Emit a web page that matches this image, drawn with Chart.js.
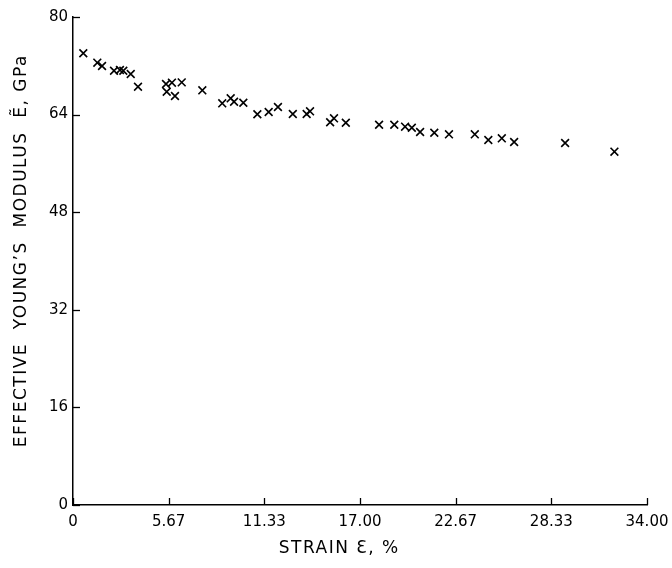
<!DOCTYPE html>
<html>
<head>
<meta charset="utf-8">
<script src="https://cdn.jsdelivr.net/npm/chart.js@4/dist/chart.umd.min.js"></script>
<style>
html,body{margin:0;padding:0;background:#fff;}
#wrap{width:672px;height:568px;position:relative;}
</style>
</head>
<body>
<div id="wrap"><canvas id="c" width="672" height="568"></canvas></div>
<script>
const strain = [0.61,1.44,1.72,2.43,2.78,2.98,3.42,3.85,5.51,5.55,5.86,6.04,6.44,7.66,8.84,9.34,9.54,10.09,10.92,11.59,12.14,13.02,13.84,14.04,15.23,15.46,16.16,18.13,19.03,19.67,20.07,20.56,21.40,22.27,23.80,24.60,25.40,26.13,29.15,32.07];
const modulus = [74.05,72.51,71.97,71.19,71.31,71.19,70.65,68.57,69.01,67.75,69.23,67.05,69.29,67.98,65.85,66.67,66.11,65.95,64.05,64.42,65.24,64.10,64.10,64.54,62.74,63.39,62.67,62.34,62.34,62.02,61.85,61.15,61.03,60.77,60.77,59.84,60.11,59.51,59.34,57.92];
const xTickValues = [0, 5.667, 11.333, 17, 22.667, 28.333, 34];
const xTickLabels = ['0','5.67','11.33','17.00','22.67','28.33','34.00'];
const yTickValues = [0,16,32,48,64,80];
const yTickLabels = ['0','16','32','48','64','80'];

const points = strain.map((x,i)=>({x:x,y:modulus[i]}));
const FONT = "'DejaVu Sans', sans-serif";

const inwardTicks = {
  id:'inwardTicks',
  beforeDraw(chart){ chart.ctx.letterSpacing = '1.5px'; },
  beforeDatasetsDraw(chart){ chart.ctx.letterSpacing = '0px'; },
  afterDraw(chart){
    const ctx = chart.ctx, xs = chart.scales.x, ys = chart.scales.y, a = chart.chartArea;
    ctx.save();
    ctx.strokeStyle = '#000';
    ctx.lineWidth = 1.3;
    xs.ticks.forEach(t=>{
      const px = Math.round(xs.getPixelForValue(t.value))+0.5;
      ctx.beginPath(); ctx.moveTo(px,a.bottom); ctx.lineTo(px,a.bottom-7); ctx.stroke();
    });
    ys.ticks.forEach(t=>{
      const py = Math.round(ys.getPixelForValue(t.value))+0.5;
      ctx.beginPath(); ctx.moveTo(a.left,py); ctx.lineTo(a.left+7,py); ctx.stroke();
    });
    ctx.restore();
  }
};

new Chart(document.getElementById('c'),{
  type:'scatter',
  data:{datasets:[{
    data:points,
    pointStyle:'crossRot',
    pointRadius:5.5,
    pointBorderWidth:1.6,
    borderColor:'#000',
    backgroundColor:'#000'
  }]},
  options:{
    responsive:false,
    animation:false,
    events:[],
    layout:{padding:{top:17,right:25,left:0,bottom:0}},
    plugins:{legend:{display:false},tooltip:{enabled:false}},
    scales:{
      x:{
        type:'linear',min:0,max:34,
        afterBuildTicks(s){ s.ticks = xTickValues.map(v=>({value:v})); },
        afterFit(s){ s.height = 63; s.paddingLeft = 0; s.paddingRight = 0; },
        grid:{display:false,drawTicks:false},
        border:{display:true,color:'#000',width:1.5},
        ticks:{z:1,color:'#000',font:{family:FONT,size:15},padding:8,maxRotation:0,autoSkip:false,
          callback:(v,i)=>xTickLabels[i]},
        title:{display:true,text:'STRAIN \u0190, %\u00A0\u00A0\u00A0\u00A0\u00A0\u00A0',color:'#000',font:{family:FONT,size:17},padding:{top:0,bottom:9}}
      },
      y:{
        type:'linear',min:0,max:80,
        afterBuildTicks(s){ s.ticks = yTickValues.map(v=>({value:v})); },
        afterFit(s){ s.width = 73; },
        grid:{display:false,drawTicks:false},
        border:{display:true,color:'#000',width:1.5},
        ticks:{z:1,color:'#000',font:{family:FONT,size:15},padding:5,autoSkip:false,
          callback:(v,i)=>yTickLabels[i]},
        title:{display:true,text:'\u00A0\u00A0\u00A0EFFECTIVE  YOUNG\u2019S  MODULUS  \u1EBC, GPa',color:'#000',font:{family:FONT,size:17},padding:{top:11,bottom:0}}
      }
    }
  },
  plugins:[inwardTicks]
});
</script>
</body>
</html>
